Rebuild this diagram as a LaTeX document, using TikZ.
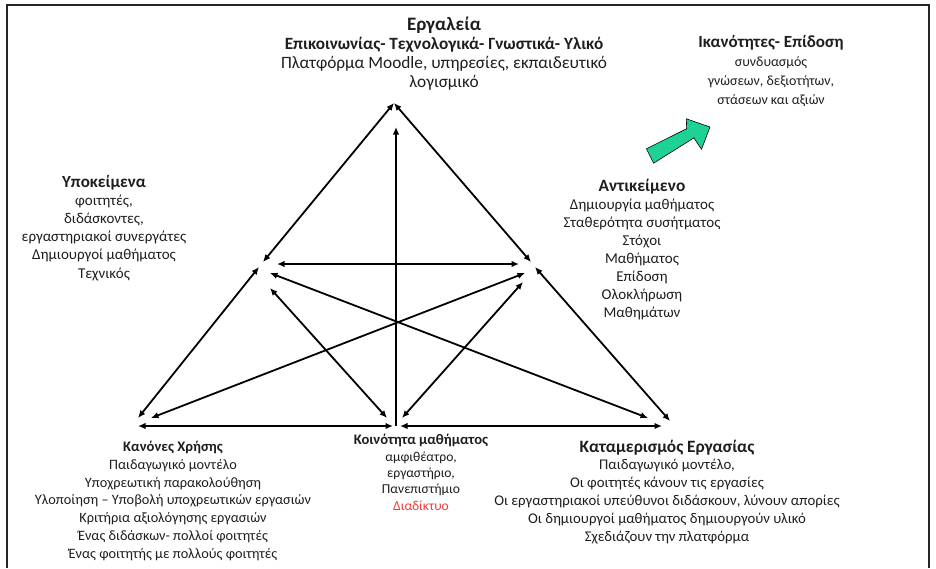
\documentclass[tikz,border=0pt]{standalone}
\usepackage{fontspec}
\setmainfont{Carlito}
\usetikzlibrary{arrows.meta}
\definecolor{mint}{RGB}{30,210,150}
\definecolor{webred}{RGB}{240,60,60}
\definecolor{txt}{RGB}{30,30,30}
\begin{document}
\begin{tikzpicture}[x=1pt,y=-1pt,
  tip/.tip={Latex[length=7.5pt,width=6.5pt]},
  link/.style={line width=1.8pt, tip-tip},
  uplink/.style={line width=1.8pt, -tip},
  label/.style={align=center, inner sep=0pt, anchor=base, text=txt},
]
\useasboundingbox (0,0) rectangle (936,568);
\draw[line width=1.2pt, black!85] (7,568) -- (7,5) -- (929,5) -- (929,568);

% points of the triangle
\coordinate (A) at (394,103);
\coordinate (L1) at (263,262);
\coordinate (L2) at (259,267);
\coordinate (R1) at (531,262);
\coordinate (R2) at (535,267);
\coordinate (BL) at (138,418);
\coordinate (BR) at (670,421);
\coordinate (LH) at (277,264);
\coordinate (RH) at (519,264);
\coordinate (LD) at (270,273);
\coordinate (RD) at (525,273);
\coordinate (LB) at (270,288);
\coordinate (RB) at (523,282);
\coordinate (BLd) at (151,418);
\coordinate (BRd) at (648,418);
\coordinate (BMl) at (387,418);
\coordinate (BMr) at (402,418);
\coordinate (HL) at (138,426);
\coordinate (HMl) at (393,426);
\coordinate (HMr) at (400,426);
\coordinate (HR) at (662,426);
\coordinate (Vb) at (396,426);
\coordinate (Vt) at (396,127);

\draw[link] (A) -- (L1);
\draw[link] (L2) -- (BL);
\draw[link] (A) -- (R1);
\draw[link] (R2) -- (BR);
\draw[link] (LH) -- (RH);
\draw[link] (LD) -- (BRd);
\draw[link] (RD) -- (BLd);
\draw[link] (LB) -- (BMl);
\draw[link] (RB) -- (BMr);
\draw[link] (HL) -- (HMl);
\draw[link] (HMr) -- (HR);
\draw[uplink] (Vb) -- (Vt);

% green arrow
\draw[fill=mint, draw=black, line width=0.6pt]
  (646.4,148.8) -- (686.7,128.7) -- (686.3,118.8) -- (710,127) -- (701.5,149.2) -- (693.9,137.9) -- (653.6,163.2) -- cycle;

% texts (anchor = baseline of the last line)
\node[label, font=\fontsize{17.3}{19}\selectfont] (tools) at (444,87) {{\bfseries\fontsize{19}{19}\selectfont Εργαλεία}\\
  {\bfseries\fontsize{17.2}{19}\selectfont Επικοινωνίας- Τεχνολογικά- Γνωστικά- Υλικό}\\
  Πλατφόρμα Moodle, υπηρεσίες, εκπαιδευτικό\\
  λογισμικό};

\node[label, font=\fontsize{14}{19}\selectfont] (skills) at (771,104) {{\bfseries\fontsize{17}{19}\selectfont Ικανότητες- Επίδοση}\\
  συνδυασμός\\ γνώσεων, δεξιοτήτων,\\ στάσεων και αξιών};

\node[label, font=\fontsize{15}{18.2}\selectfont] (subj) at (104,278) {{\bfseries\fontsize{17}{18.2}\selectfont Υποκείμενα}\\
  φοιτητές,\\ διδάσκοντες,\\ εργαστηριακοί συνεργάτες\\ Δημιουργοί μαθήματος\\ Τεχνικός};

\node[label, font=\fontsize{15}{18}\selectfont] (obj) at (642,317) {{\bfseries\fontsize{17.3}{18}\selectfont Αντικείμενο}\\
  Δημιουργία μαθήματος\\ Σταθερότητα συσήτματος\\ Στόχοι\\ Μαθήματος\\ Επίδοση\\ Ολοκλήρωση\\ Μαθημάτων};

\node[label, font=\fontsize{14.3}{17.7}\selectfont] (rules) at (173,558) {{\bfseries\fontsize{14.6}{17.7}\selectfont Κανόνες Χρήσης}\\
  Παιδαγωγικό μοντέλο\\ Υποχρεωτική παρακολούθηση\\ Υλοποίηση – Υποβολή υποχρεωτικών εργασιών\\
  Κριτήρια αξιολόγησης εργασιών\\ Ένας διδάσκων- πολλοί φοιτητές\\ Ένας φοιτητής με πολλούς φοιτητές};

\node[label, font=\fontsize{13.6}{16.3}\selectfont] (comm) at (421,510) {{\bfseries\fontsize{14.6}{16.3}\selectfont Κοινότητα μαθήματος}\\
  αμφιθέατρο,\\ εργαστήριο,\\ Πανεπιστήμιο\\ \textcolor{webred}{Διαδίκτυο}};

\node[label, font=\fontsize{14.8}{17.8}\selectfont] (div) at (667,541) {{\bfseries\fontsize{17.3}{17.8}\selectfont Καταμερισμός Εργασίας}\\
  Παιδαγωγικό μοντέλο,\\ Οι φοιτητές κάνουν τις εργασίες\\ Οι εργαστηριακοί υπεύθυνοι διδάσκουν, λύνουν απορίες\\
  Οι δημιουργοί μαθήματος δημιουργούν υλικό\\ Σχεδιάζουν την πλατφόρμα};
\end{tikzpicture}
\end{document}
